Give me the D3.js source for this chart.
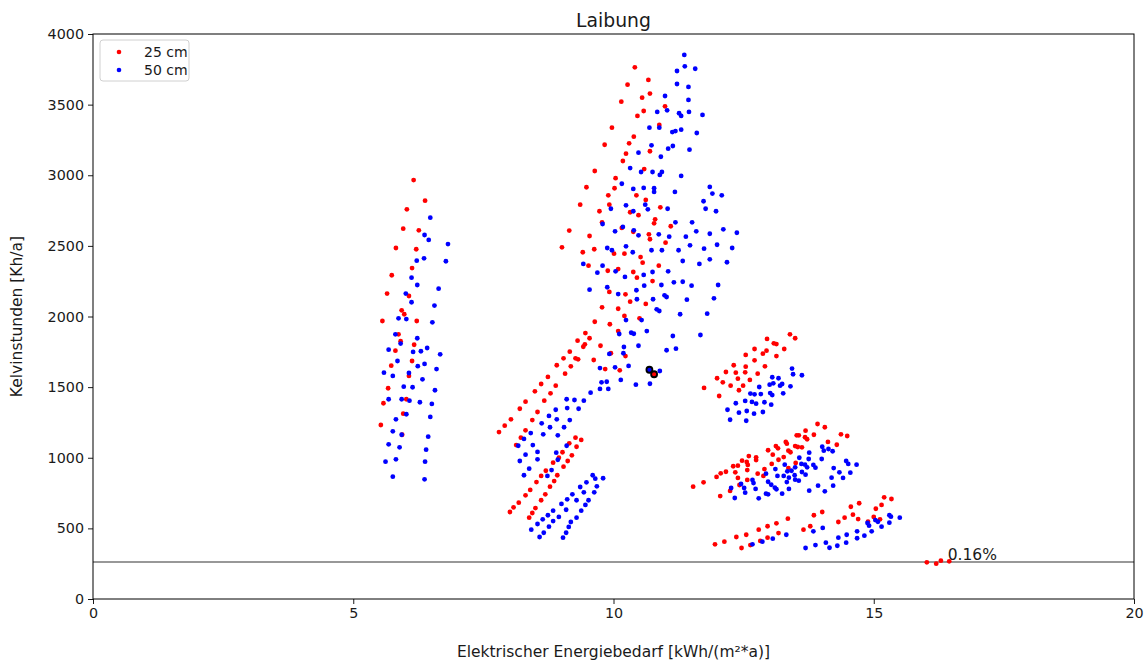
<!DOCTYPE html>
<html>
<head>
<meta charset="utf-8">
<script src="https://cdn.jsdelivr.net/npm/d3@7"></script>
<style>
  body { margin: 0; background: #fff; }
  text { font-family: 'DejaVu Sans', sans-serif; fill: #1a1a1a; }
</style>
</head>
<body>
<div id="chart"></div>
<script>
// [energy kWh/(m²a), Kelvinstunden Kh/a]
const red25 = [
  // ~6 kWh cluster
  [6.16,2966],[6.38,2820],[6.03,2759],[5.96,2622],[6.26,2610],[5.82,2485],[6.21,2476],[6.13,2343],
  [5.74,2292],[5.65,2162],[6.07,2145],[5.93,2044],[5.98,2016],[5.56,1968],[6.22,1968],[5.87,1874],
  [5.91,1825],[6.17,1800],[5.81,1758],[5.73,1652],[6.13,1685],[6.07,1579],[5.67,1492],[6.02,1414],
  [5.58,1386],[5.96,1312],[5.53,1232],[5.94,1163],
  // ~8-9 kWh lower bands
  [8.91,1655],[8.74,1572],[8.61,1522],[8.89,1510],[8.49,1470],[8.79,1456],[8.31,1397],[8.67,1404],
  [8.20,1347],[8.54,1324],[8.03,1272],[8.44,1267],[7.91,1227],[8.31,1194],[7.80,1182],[8.22,1142],
  [8.13,1090],[9.27,1142],[9.38,1126],[9.15,1102],[9.29,1078],[9.02,1039],[9.20,1017],[8.95,1000],
  [8.84,965],[9.12,977],[9.04,937],[8.70,908],[8.61,871],[8.92,876],[8.52,828],[8.86,835],
  [8.78,795],[8.40,772],[8.69,741],[8.31,734],[8.61,699],[8.18,682],[8.50,644],[8.08,649],
  [8.44,609],[8.01,616],[8.38,576],
  // ~10 kWh upper cloud
  [10.41,3764],[10.67,3675],[10.27,3641],[10.55,3549],[10.70,3578],[10.15,3521],[10.99,3488],[10.58,3455],
  [10.46,3420],[10.88,3356],[9.97,3337],[10.39,3273],[10.30,3226],[9.83,3216],[10.70,3170],[10.24,3153],
  [10.18,3101],[10.59,3044],[9.64,3030],[10.04,2979],[9.48,2915],[10.02,2908],[10.44,2858],[9.90,2858],
  [10.62,2825],[9.36,2792],[9.92,2792],[9.73,2745],[10.32,2738],[10.48,2717],[10.90,2773],[10.80,2688],
  [10.78,2660],[9.78,2667],[10.16,2627],[11.10,2639],[9.15,2608],[9.54,2570],[10.38,2600],[10.68,2582],
  [10.70,2547],[11.00,2523],[9.01,2490],[9.63,2476],[9.41,2455],[10.01,2445],[10.21,2445],[10.52,2421],
  [10.56,2381],[9.52,2360],[10.87,2360],[9.89,2324],[10.09,2336],[10.38,2315],[10.45,2275],[10.75,2251],
  [9.92,2174],[10.23,2157],[10.32,2105],[10.62,2089],[9.78,2065],[10.09,2055],[10.21,2004],[10.50,1987],
  [9.64,1963],[9.93,1945],[9.46,1883],[9.54,1846],[10.09,1897],[9.31,1829],[9.45,1803],[9.42,1786],
  [9.75,1793],[9.16,1751],[9.95,1740],[10.23,1720],[9.04,1704],[9.27,1704],[9.32,1697],[9.62,1692],
  [9.18,1647],[9.84,1628],[10.12,1619],[9.07,1595],
  // ~12-13 kWh cluster
  [13.39,1874],[13.49,1846],[12.95,1841],[13.08,1810],[13.13,1805],[12.71,1770],[12.94,1758],[13.28,1770],
  [12.87,1737],[12.54,1728],[13.13,1720],[12.71,1690],[12.31,1655],[12.54,1645],[12.91,1647],[12.16,1607],
  [12.35,1602],[12.53,1605],[12.77,1595],[11.99,1563],[12.39,1560],[12.62,1551],[12.10,1534],[12.25,1510],
  [12.49,1510],[11.74,1494],[12.41,1478],[12.03,1437],
  // ~13 kWh middle band
  [13.92,1239],[14.06,1216],[13.69,1192],[13.52,1159],[13.56,1159],[13.85,1163],[14.37,1166],[14.49,1154],
  [13.68,1145],[13.72,1131],[13.31,1112],[13.33,1100],[14.12,1112],[13.12,1083],[13.16,1067],[13.49,1083],
  [13.54,1076],[13.62,1074],[14.29,1092],[12.97,1053],[13.36,1050],[13.40,1039],[12.60,1012],[12.74,1003],
  [12.74,984],[13.06,1022],[13.27,1005],[13.17,986],[12.47,979],[12.56,970],[12.58,949],[13.04,956],
  [12.30,940],[12.39,944],[13.50,963],[12.90,920],[13.36,927],[12.57,913],[12.16,901],[12.34,897],
  [12.06,890],[12.77,887],[12.88,871],[11.98,864],[12.39,857],[12.57,843],[11.73,826],[11.53,795],
  [12.42,807],[12.24,765],[12.05,729],
  // lowest band
  [14.56,653],[14.72,678],[14.01,616],[13.85,593],[14.60,597],[14.44,576],[14.32,545],[14.70,566],
  [15.00,581],[15.04,639],[13.35,569],[13.13,536],[12.96,515],[12.79,491],[13.78,515],[13.65,491],
  [13.17,467],[12.96,434],[12.55,455],[12.36,439],[12.82,411],[12.13,406],[11.95,387],[12.63,382],
  [12.46,361],[14.89,547],[15.20,720],[15.34,708],[15.15,666],[15.12,564],
  [16.02,260],[16.20,250],[16.29,271],[16.45,267]
];

const blue50 = [
  // ~6 kWh cluster
  [6.48,2700],[6.37,2577],[6.45,2542],[6.82,2513],[6.36,2412],[6.22,2395],[6.78,2391],[6.12,2275],
  [6.23,2223],[6.64,2197],[6.01,2162],[6.12,2101],[6.56,2077],[5.87,1987],[6.02,1982],[6.52,1959],
  [5.81,1874],[6.23,1846],[5.91,1808],[5.68,1765],[6.15,1749],[6.30,1754],[6.42,1777],[6.67,1732],
  [5.85,1685],[6.24,1648],[6.37,1664],[6.60,1628],[5.59,1602],[5.76,1579],[6.07,1600],[6.33,1555],
  [5.97,1503],[6.14,1499],[6.57,1478],[5.68,1414],[5.93,1414],[6.08,1404],[6.28,1393],[6.51,1381],
  [6.02,1308],[6.48,1289],[5.82,1272],[5.76,1187],[5.93,1163],[6.44,1149],[5.68,1095],[5.89,1074],
  [6.40,1057],[5.62,972],[5.82,989],[6.38,972],[5.76,866],[6.37,847],
  // ~8-9 kWh lower bands
  [9.10,1414],[9.25,1409],[9.43,1404],[8.89,1340],[9.11,1352],[9.33,1347],[8.76,1296],[8.91,1272],
  [9.16,1267],[8.62,1244],[8.78,1216],[9.05,1216],[8.41,1175],[8.65,1166],[8.93,1159],[8.28,1133],
  [8.45,1090],[8.17,1085],[9.10,1085],[8.54,1041],[8.90,1036],[8.31,1022],[8.54,989],[8.93,986],
  [8.20,977],[8.81,913],[8.38,923],[8.28,876],[8.73,871],[9.60,876],[9.65,852],[9.80,855],
  [9.48,826],[9.36,793],[9.68,798],[9.21,741],[9.43,755],[9.63,755],[9.11,706],[9.29,699],
  [9.52,699],[9.00,673],[9.46,666],[8.84,625],[9.09,632],[9.38,625],[8.74,593],[8.95,581],
  [9.29,576],[8.64,564],[8.84,552],[9.18,545],[8.54,531],[8.76,512],[9.14,510],[8.42,491],
  [8.66,469],[9.09,469],[8.58,439],[9.03,434],
  // ~10-11 kWh upper cloud
  [11.36,3852],[11.37,3771],[11.57,3754],[11.22,3738],[11.22,3646],[11.44,3625],[10.99,3561],[11.44,3533],
  [11.03,3460],[10.84,3448],[11.26,3439],[11.30,3420],[11.45,3448],[11.71,3427],[10.69,3337],[10.88,3337],
  [11.13,3306],[11.19,3313],[11.30,3323],[11.60,3299],[10.73,3212],[11.14,3207],[11.05,3188],[10.48,3160],
  [11.46,3181],[10.91,3131],[10.32,3051],[10.53,3023],[10.75,3023],[10.93,3023],[10.89,3002],[11.30,2995],
  [10.16,2940],[10.38,2903],[10.58,2910],[10.78,2908],[10.78,2882],[11.18,2882],[11.85,2917],[11.90,2870],
  [12.08,2858],[12.11,2617],[12.37,2593],[12.28,2485],[12.18,2384],
  [10.24,2787],[9.95,2763],[10.38,2745],[10.61,2792],[10.66,2759],[11.04,2763],[11.73,2816],[11.77,2763],
  [11.97,2745],[9.79,2655],[11.19,2667],[11.51,2667],[10.18,2634],[10.03,2603],[10.39,2610],[10.48,2575],
  [10.87,2582],[11.07,2565],[11.39,2565],[11.59,2603],[11.85,2586],[10.24,2497],[9.88,2485],[9.97,2469],
  [10.37,2455],[10.73,2469],[10.93,2469],[11.25,2469],[11.47,2504],[11.74,2480],[11.99,2508],[9.42,2372],
  [9.79,2360],[11.33,2393],[11.85,2405],[11.65,2372],[9.69,2310],[10.04,2320],[10.22,2280],[10.58,2294],
  [10.75,2315],[11.05,2320],[9.88,2207],[9.54,2190],[10.44,2186],[10.59,2218],[10.92,2223],[11.16,2242],
  [11.33,2246],[11.50,2218],[12.01,2223],[10.09,2159],[10.45,2122],[10.76,2122],[10.98,2150],[11.02,2138],
  [11.41,2119],[11.93,2129],[10.83,2051],[10.88,2039],[10.24,1975],[10.54,1975],[11.28,2016],[11.80,2020],
  [10.11,1876],[10.34,1885],[10.39,1878],[10.64,1897],[11.14,1862],[10.20,1784],[10.48,1793],[11.20,1772],
  [11.02,1761],[9.92,1735],[10.19,1740],[10.03,1640],[9.74,1635],[10.29,1650],[10.89,1614],[10.14,1551],
  [9.77,1534],[9.87,1538],[10.43,1517],[10.70,1524],[9.74,1487],[9.90,1487],[9.56,1461],
  // ~12-13 kWh cluster
  [11.67,1869],[13.43,1631],[13.45,1591],[13.62,1584],[13.05,1570],[13.17,1563],[12.80,1501],[13.00,1517],
  [13.07,1527],[13.20,1510],[13.24,1522],[13.40,1506],[12.63,1454],[12.71,1449],[12.83,1451],[13.01,1458],
  [13.05,1444],[13.26,1456],[12.35,1386],[12.53,1402],[12.66,1395],[12.74,1383],[12.90,1393],[13.03,1376],
  [12.19,1340],[12.41,1319],[12.56,1331],[12.70,1312],[12.87,1324],[12.24,1269],[12.55,1262],
  // ~13 kWh middle band
  [14.01,1078],[14.04,1050],[14.13,1062],[14.21,1046],[13.76,1036],[13.57,1000],[14.00,991],[13.75,991],
  [13.29,951],[13.61,956],[13.68,951],[13.84,949],[13.88,930],[13.49,932],[13.72,932],[13.11,920],
  [13.42,908],[13.34,904],[14.47,977],[14.51,956],[14.67,951],[14.23,927],[12.93,887],[13.62,899],
  [13.69,880],[14.34,897],[14.55,894],[13.15,871],[13.27,871],[13.48,876],[13.49,845],[13.37,859],
  [13.33,828],[13.56,838],[14.19,859],[14.41,857],[12.67,843],[12.69,821],[12.97,830],[12.45,814],
  [13.03,809],[13.10,788],[13.13,777],[12.51,786],[12.26,786],[12.73,779],[13.37,779],[14.22,802],
  [13.93,802],[13.76,767],[14.06,762],[12.53,753],[12.93,746],[12.97,741],[13.24,746],[12.33,715],
  [12.79,713],
  // lowest band
  [14.88,538],[14.91,519],[14.96,479],[15.03,559],[15.08,547],[14.68,479],[14.48,455],[14.68,430],
  [14.82,448],[14.32,434],[14.47,399],[14.30,377],[14.08,399],[14.15,363],[13.88,382],[13.69,361],
  [14.02,503],[13.84,479],[13.32,455],[13.06,427],[12.86,406],[12.67,387],[15.30,593],[15.33,583],
  [15.50,576],[15.15,512],[15.30,540]
];

// the two marked variants
const markedBlue = [[10.69,1623]];
const markedRed = [[10.78,1591]];

const threshold = 262;
const thresholdLabel = '0.16%';
const xTicks = [0, 5, 10, 15, 20];
const yTicks = [0, 500, 1000, 1500, 2000, 2500, 3000, 3500, 4000];
const legendItems = [['25 cm', '#ff0000'], ['50 cm', '#0000ff']];

const W = 1146, H = 664;
const plotLeft = 93, plotRight = 1134, plotTop = 34, plotBottom = 599;

const svg = d3.select('#chart').append('svg').attr('width', W).attr('height', H);
svg.append('rect').attr('width', W).attr('height', H).attr('fill', '#fff');

const x = d3.scaleLinear().domain([0, 20]).range([plotLeft, plotRight]);
const y = d3.scaleLinear().domain([0, 4000]).range([plotBottom, plotTop]);

const xAxis = svg.append('g')
  .attr('transform', `translate(0,${plotBottom})`)
  .call(d3.axisBottom(x).tickValues(xTicks).tickSize(5).tickPadding(4).tickFormat(d3.format('d')));
const yAxis = svg.append('g')
  .attr('transform', `translate(${plotLeft},0)`)
  .call(d3.axisLeft(y).tickValues(yTicks).tickSize(5).tickPadding(4).tickFormat(d3.format('d')));

for (const ax of [xAxis, yAxis]) {
  ax.select('.domain').remove();
  ax.selectAll('line').attr('stroke', '#000').attr('stroke-width', 0.9);
  ax.selectAll('text').attr('font-family', 'DejaVu Sans').attr('font-size', 14.3).attr('fill', '#1a1a1a');
}

// threshold line + label
svg.append('line')
  .attr('x1', plotLeft).attr('x2', plotRight)
  .attr('y1', y(threshold)).attr('y2', y(threshold))
  .attr('stroke', '#333').attr('stroke-width', 1.1);
svg.append('text')
  .attr('x', x(16.42)).attr('y', y(threshold) - 2)
  .attr('font-size', 15.5)
  .text(thresholdLabel);

const dots = (data, color) => {
  svg.append('g').selectAll('circle').data(data).join('circle')
    .attr('cx', d => x(d[0])).attr('cy', d => y(d[1]))
    .attr('r', 2.4).attr('fill', color);
};
dots(red25, '#ff0000');
dots(blue50, '#0000ff');

const marked = (data, color) => {
  svg.append('g').selectAll('circle').data(data).join('circle')
    .attr('cx', d => x(d[0])).attr('cy', d => y(d[1]))
    .attr('r', 3).attr('fill', color)
    .attr('stroke', '#000').attr('stroke-width', 1.8);
};
marked(markedBlue, '#0000ff');
marked(markedRed, '#ff0000');

// frame
svg.append('rect')
  .attr('x', plotLeft).attr('y', plotTop)
  .attr('width', plotRight - plotLeft).attr('height', plotBottom - plotTop)
  .attr('fill', 'none').attr('stroke', '#000').attr('stroke-width', 1);

// title and axis labels
svg.append('text')
  .attr('x', (plotLeft + plotRight) / 2).attr('y', 27)
  .attr('text-anchor', 'middle').attr('font-size', 18.8)
  .text('Laibung');
svg.append('text')
  .attr('x', (plotLeft + plotRight) / 2).attr('y', 657)
  .attr('text-anchor', 'middle').attr('font-size', 15.5)
  .text('Elektrischer Energiebedarf [kWh/(m²*a)]');
svg.append('text')
  .attr('transform', `translate(22,${(plotTop + plotBottom) / 2}) rotate(-90)`)
  .attr('text-anchor', 'middle').attr('font-size', 15.5)
  .text('Kelvinstunden [Kh/a]');

// legend
const legend = svg.append('g').attr('transform', 'translate(100,40)');
legend.append('rect')
  .attr('width', 89).attr('height', 41).attr('rx', 3)
  .attr('fill', '#fff').attr('fill-opacity', 0.8)
  .attr('stroke', '#d0d0d0').attr('stroke-width', 1);
legendItems.forEach(([label, color], i) => {
  legend.append('circle')
    .attr('cx', 19).attr('cy', 12 + i * 18).attr('r', 2.3).attr('fill', color);
  legend.append('text')
    .attr('x', 44).attr('y', 17 + i * 18)
    .attr('font-size', 14)
    .text(label);
});
</script>
</body>
</html>
